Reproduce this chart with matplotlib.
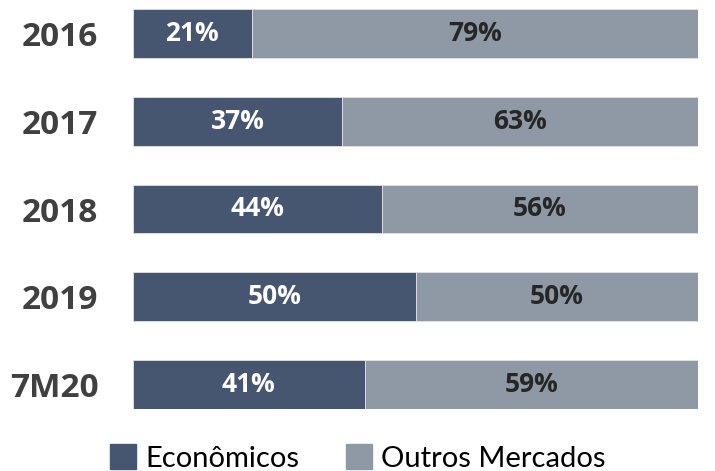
import matplotlib
matplotlib.use("Agg")
import matplotlib.pyplot as plt
from matplotlib.patches import Rectangle

categories = ["2016", "2017", "2018", "2019", "7M20"]
economicos = [21, 37, 44, 50, 41]
outros = [79, 63, 56, 50, 59]
series_names = ["Econômicos", "Outros Mercados"]

c_dark = "#465670"
c_light = "#8F99A5"

plt.rcParams['font.family'] = ['Lato', 'DejaVu Sans']
bold_font = ['Open Sans', 'DejaVu Sans']

fig = plt.figure(figsize=(7.15, 4.71), dpi=100)
ax = fig.add_axes([133/715, 1-409/471, (698-133)/715, (409-9)/471])

h = 0.557
y = list(range(len(categories)))
ax.barh(y, economicos, height=h, color=c_dark, edgecolor="#dfe3e8", linewidth=0.6)
ax.barh(y, outros, left=economicos, height=h, color=c_light, edgecolor="#dfe3e8", linewidth=0.6)

for i, (e, o) in enumerate(zip(economicos, outros)):
    ax.text(e/2, i, f"{e}%", ha="center", va="center", color="white",
            fontsize=19, fontweight="bold", family=bold_font)
    ax.text(e + o/2, i, f"{o}%", ha="center", va="center", color="#262626",
            fontsize=19, fontweight="bold", family=bold_font)

ax.set_xlim(0, 100)
ax.set_ylim(len(categories) - 1 + h/2, -h/2)
ax.set_yticks(y)
ax.set_yticklabels(categories, fontsize=24, fontweight="bold", color="#404040",
                   family=bold_font)
ax.tick_params(axis="y", length=0, pad=25)
ax.set_xticks([])
for s in ax.spines.values():
    s.set_visible(False)

# legend
handles = [Rectangle((0, 0), 1, 1, color=c_dark), Rectangle((0, 0), 1, 1, color=c_light)]
fig.legend(handles, series_names, loc="center", bbox_to_anchor=(0.5, 1-458/471),
           ncol=2, frameon=False, fontsize=21, handlelength=0.9, handleheight=0.9,
           handletextpad=0.3, columnspacing=1.6, borderaxespad=0)

fig.savefig("out.png", dpi=100)
